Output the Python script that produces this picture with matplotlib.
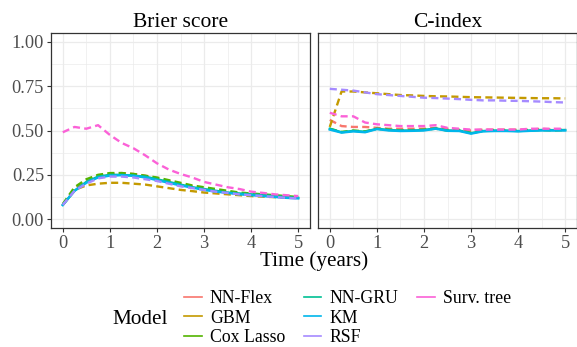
import numpy as np
import matplotlib
matplotlib.use("Agg")
import matplotlib.pyplot as plt
from matplotlib.lines import Line2D
from matplotlib.ticker import MultipleLocator

plt.rcParams['font.family'] = ['Liberation Serif', 'DejaVu Serif']

# time grid (years)
times = [0, 0.25, 0.5, 0.75, 1, 1.25, 1.5, 1.75, 2, 2.25, 2.5, 2.75,
         3, 3.25, 3.5, 3.75, 4, 4.25, 4.5, 4.75, 5]

models = ['NN-Flex', 'GBM', 'Cox Lasso', 'NN-GRU', 'KM', 'RSF', 'Surv. tree']
colors = ['#F8766D', '#C49A00', '#53B400', '#00C094', '#00B6EB', '#A58AFF', '#FB61D7']
styles = ['dashed', 'dashed', 'dashed', 'solid', 'solid', 'dashed', 'dashed']

brier = {
    'NN-Flex':    [0.08, 0.17, 0.215, 0.245, 0.255, 0.26, 0.255, 0.245, 0.23, 0.215, 0.2,
                   0.185, 0.17, 0.16, 0.155, 0.145, 0.14, 0.135, 0.13, 0.125, 0.12],
    'GBM':        [0.08, 0.165, 0.19, 0.2, 0.205, 0.205, 0.2, 0.195, 0.185, 0.175, 0.165,
                   0.158, 0.15, 0.145, 0.14, 0.135, 0.13, 0.127, 0.124, 0.121, 0.12],
    'Cox Lasso':  [0.085, 0.18, 0.225, 0.25, 0.26, 0.26, 0.255, 0.245, 0.235, 0.22, 0.205,
                   0.19, 0.18, 0.17, 0.16, 0.15, 0.145, 0.14, 0.135, 0.13, 0.125],
    'NN-GRU':     [0.08, 0.16, 0.21, 0.24, 0.25, 0.25, 0.245, 0.24, 0.225, 0.21, 0.195,
                   0.18, 0.17, 0.16, 0.15, 0.145, 0.14, 0.135, 0.13, 0.125, 0.12],
    'KM':         [0.08, 0.16, 0.205, 0.235, 0.245, 0.248, 0.245, 0.235, 0.22, 0.205, 0.19,
                   0.178, 0.165, 0.155, 0.148, 0.14, 0.135, 0.13, 0.125, 0.12, 0.117],
    'RSF':        [0.08, 0.16, 0.2, 0.23, 0.24, 0.24, 0.235, 0.225, 0.215, 0.2, 0.185,
                   0.175, 0.165, 0.155, 0.148, 0.14, 0.135, 0.13, 0.125, 0.12, 0.117],
    'Surv. tree': [0.49, 0.52, 0.51, 0.53, 0.475, 0.43, 0.40, 0.36, 0.315, 0.28, 0.255,
                   0.235, 0.21, 0.195, 0.18, 0.17, 0.155, 0.148, 0.14, 0.135, 0.13],
}

cindex = {
    'NN-Flex':    [0.56, 0.525, 0.52, 0.52, 0.515, 0.51, 0.51, 0.51, 0.51, 0.515, 0.51,
                   0.505, 0.5, 0.505, 0.505, 0.505, 0.505, 0.505, 0.51, 0.505, 0.505],
    'GBM':        [0.52, 0.72, 0.72, 0.715, 0.71, 0.705, 0.70, 0.698, 0.695, 0.693, 0.692,
                   0.69, 0.688, 0.687, 0.686, 0.685, 0.684, 0.683, 0.682, 0.682, 0.681],
    'Cox Lasso':  [0.51, 0.492, 0.5, 0.495, 0.51, 0.505, 0.5, 0.502, 0.505, 0.51, 0.5,
                   0.5, 0.487, 0.498, 0.5, 0.5, 0.498, 0.502, 0.503, 0.5, 0.503],
    'NN-GRU':     [0.51, 0.49, 0.498, 0.493, 0.51, 0.503, 0.5, 0.5, 0.503, 0.512, 0.5,
                   0.5, 0.485, 0.497, 0.5, 0.5, 0.497, 0.5, 0.503, 0.502, 0.503],
    'KM':         [0.505, 0.488, 0.495, 0.49, 0.508, 0.5, 0.497, 0.498, 0.5, 0.51, 0.498,
                   0.497, 0.482, 0.495, 0.497, 0.497, 0.495, 0.498, 0.5, 0.5, 0.5],
    'RSF':        [0.735, 0.73, 0.725, 0.715, 0.705, 0.70, 0.695, 0.69, 0.685, 0.683, 0.68,
                   0.677, 0.673, 0.67, 0.67, 0.668, 0.667, 0.665, 0.663, 0.66, 0.658],
    'Surv. tree': [0.60, 0.58, 0.58, 0.545, 0.535, 0.53, 0.525, 0.525, 0.525, 0.53, 0.515,
                   0.51, 0.505, 0.505, 0.505, 0.505, 0.505, 0.51, 0.51, 0.51, 0.51],
}

W, H = 577, 347
fig = plt.figure(figsize=(W / 100, H / 100), dpi=100)

bot = (H - 228) / H
hgt = 195 / H
ax1 = fig.add_axes([51 / W, bot, 259 / W, hgt])
ax2 = fig.add_axes([318 / W, bot, 259 / W, hgt])

for ax, data, title in [(ax1, brier, 'Brier score'), (ax2, cindex, 'C-index')]:
    for m, c, ls in zip(models, colors, styles):
        if ls == 'dashed':
            ax.plot(times, data[m], color=c, lw=1.7, linestyle=(0, (3.0, 1.8)))
        else:
            ax.plot(times, data[m], color=c, lw=1.7)
    ax.set_xlim(-0.25, 5.25)
    ax.set_ylim(-0.05, 1.05)
    ax.xaxis.set_major_locator(MultipleLocator(1))
    ax.xaxis.set_minor_locator(MultipleLocator(0.5))
    ax.yaxis.set_major_locator(MultipleLocator(0.25))
    ax.yaxis.set_minor_locator(MultipleLocator(0.125))
    ax.grid(which='major', color='#EBEBEB', lw=0.9)
    ax.grid(which='minor', color='#EBEBEB', lw=0.5)
    ax.set_axisbelow(True)
    for s in ax.spines.values():
        s.set_color('#333333')
        s.set_linewidth(0.9)
    ax.tick_params(which='major', length=3, color='#333333', labelsize=13.2,
                   labelcolor='#4D4D4D', pad=2)
    ax.tick_params(which='minor', length=0)
    ax.set_title(title, fontsize=15.5, pad=4.5)

ax1.set_yticks([0, 0.25, 0.5, 0.75, 1.0])
ax1.set_yticklabels(['0.00', '0.25', '0.50', '0.75', '1.00'])
ax2.set_yticks([0, 0.25, 0.5, 0.75, 1.0])
ax2.tick_params(axis='y', left=False, labelleft=False)

fig.text(314 / W, 1 - 261 / H, 'Time (years)', ha='center', va='center', fontsize=15.2)

# legend: three columns filled 3, 3, 1 (blank entries pad the last column)
handles = [Line2D([], [], color=c, lw=1.2) for c in colors]
handles += [Line2D([], [], color='none')] * 2
labels = models + ['', '']
fig.legend(handles, labels, ncol=3, loc='upper left', frameon=False,
           bbox_to_anchor=(184 / W, 1 - 290 / H), fontsize=12.8,
           handlelength=1.0, handletextpad=0.45, columnspacing=1.05,
           labelspacing=0.15, borderpad=0, borderaxespad=0)
fig.text(112 / W, 1 - 319 / H, 'Model', ha='left', va='center', fontsize=15.3)

fig.savefig('out.png', dpi=100)
